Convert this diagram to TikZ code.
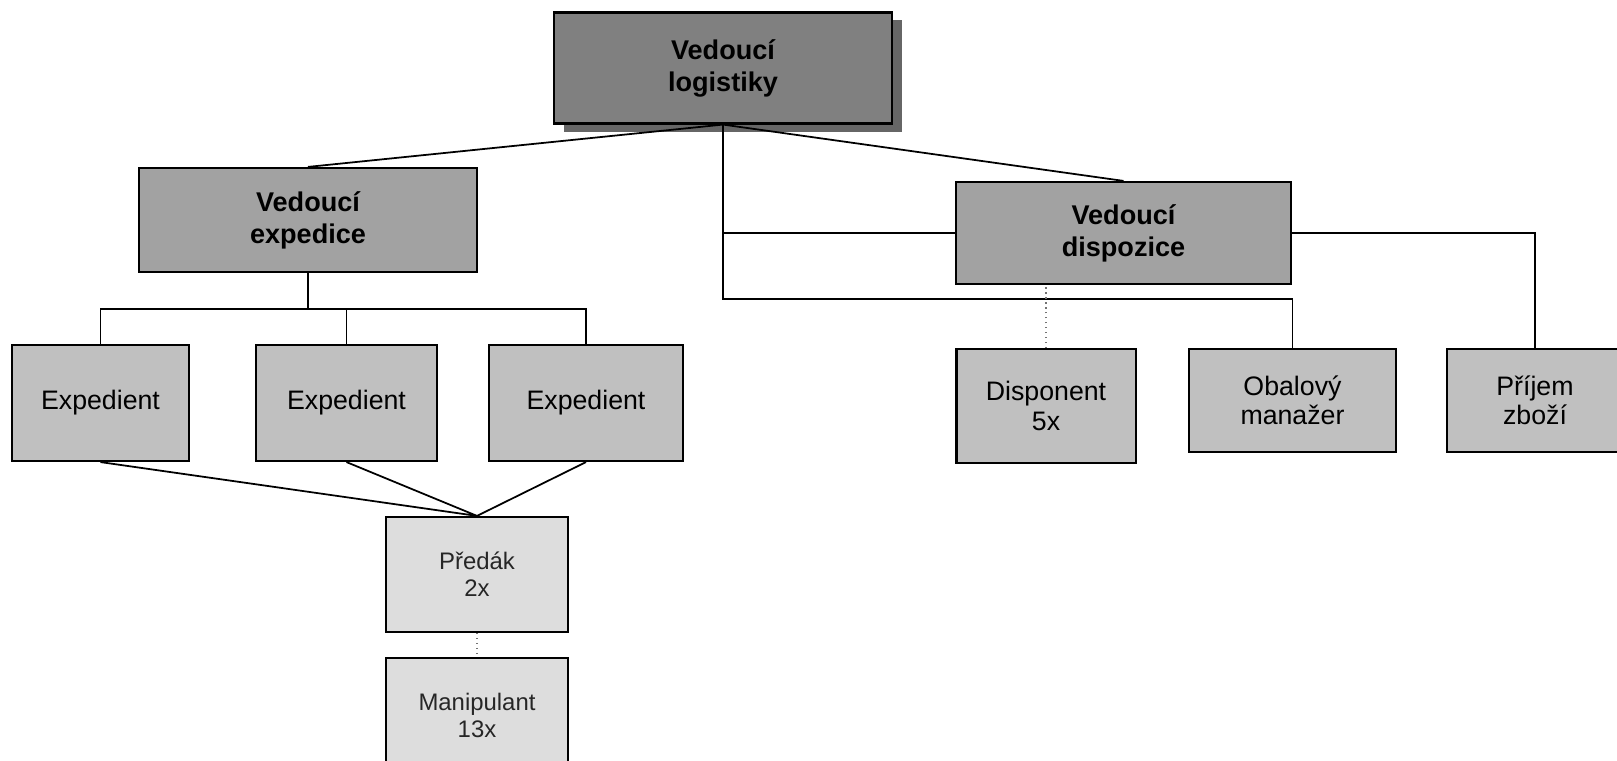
\documentclass[tikz,border=0pt]{standalone}
\usepackage{fontspec}
\setmainfont{Liberation Sans}
\usetikzlibrary{shadows}
\definecolor{headgray}{HTML}{808080}
\definecolor{leadgray}{HTML}{A2A2A2}
\definecolor{staffgray}{HTML}{C0C0C0}
\definecolor{crewgray}{HTML}{DDDDDD}

\begin{document}
\begin{tikzpicture}[x=0.01cm,y=-0.01cm,
    box/.style={draw=black,line width=0.6pt,rectangle,align=center,inner sep=0pt},
    head/.style={box,fill=headgray,font=\fontsize{7.7}{9.1}\selectfont\bfseries,
      drop shadow={fill=black!60,opacity=1,shadow xshift=1mm,shadow yshift=-0.8mm}},
    lead/.style={box,fill=leadgray,font=\fontsize{7.7}{9.1}\selectfont\bfseries},
    staff/.style={box,fill=staffgray,font=\fontsize{7.6}{8.3}\selectfont},
    crew/.style={box,fill=crewgray,text=black!85,font=\fontsize{6.8}{7.6}\selectfont},
    link/.style={line width=0.5pt,black},
    weak/.style={line width=0.4pt,black!55,densely dotted}]
        \useasboundingbox (0,0) rectangle (1617,761);
        \node[head,minimum width=33.8mm,minimum height=11.1mm] (log) at (723,68) {Vedoucí\\logistiky};
        \node[lead,minimum width=33.7mm,minimum height=10.4mm] (exped) at (308,220) {Vedoucí\\expedice};
        \node[lead,minimum width=33.5mm,minimum height=10.2mm] (disp) at (1123.5,233) {Vedoucí\\dispozice};
        \node[staff,minimum width=17.7mm,minimum height=11.6mm] (exp1) at (100.5,403) {Expedient};
        \node[staff,minimum width=18.1mm,minimum height=11.6mm] (exp2) at (346.5,403) {Expedient};
        \node[staff,minimum width=19.4mm,minimum height=11.6mm] (exp3) at (586,403) {Expedient};
        \node[crew,minimum width=18.2mm,minimum height=11.5mm] (pred) at (477,574.5) {Předák\\2x};
        \node[crew,minimum width=18.2mm,minimum height=11.5mm] (manip) at (477,715.5) {Manipulant\\13x};
        \node[staff,minimum width=17.9mm,minimum height=11.4mm] (dispon) at (1046,406) {Disponent\\5x};
        \node[staff,minimum width=20.7mm,minimum height=10.3mm] (obal) at (1292.5,400.5) {Obalový\\manažer};
        \node[staff,minimum width=17.6mm,minimum height=10.3mm] (prijem) at (1535,400.5) {Příjem\\zboží};
        \coordinate (jl) at (308,309);
        \coordinate (jr) at (723,299);
        \draw[link] (log.south) -- (exped.north);
        \draw[link] (log.south) -- (disp.north);
        \draw[link] (log.south) -- (jr) -| (obal.north);
        \draw[link] (disp.west) -- (disp.west -| jr);
        \draw[link] (disp.east) -| (prijem.north);
        \draw[weak] (dispon.north) -- (dispon.north |- disp.south);
        \draw[link] (exped.south) -- (jl);
        \draw[link] (exp1.north) |- (jl) -| (exp3.north);
        \draw[link] (exp2.north) -- (exp2.north |- jl);
        \draw[link] (exp1.south) -- (pred.north) -- (exp2.south);
        \draw[link] (exp3.south) -- (pred.north);
        \draw[weak] (pred.south) -- (manip.north);
\end{tikzpicture}
\end{document}
